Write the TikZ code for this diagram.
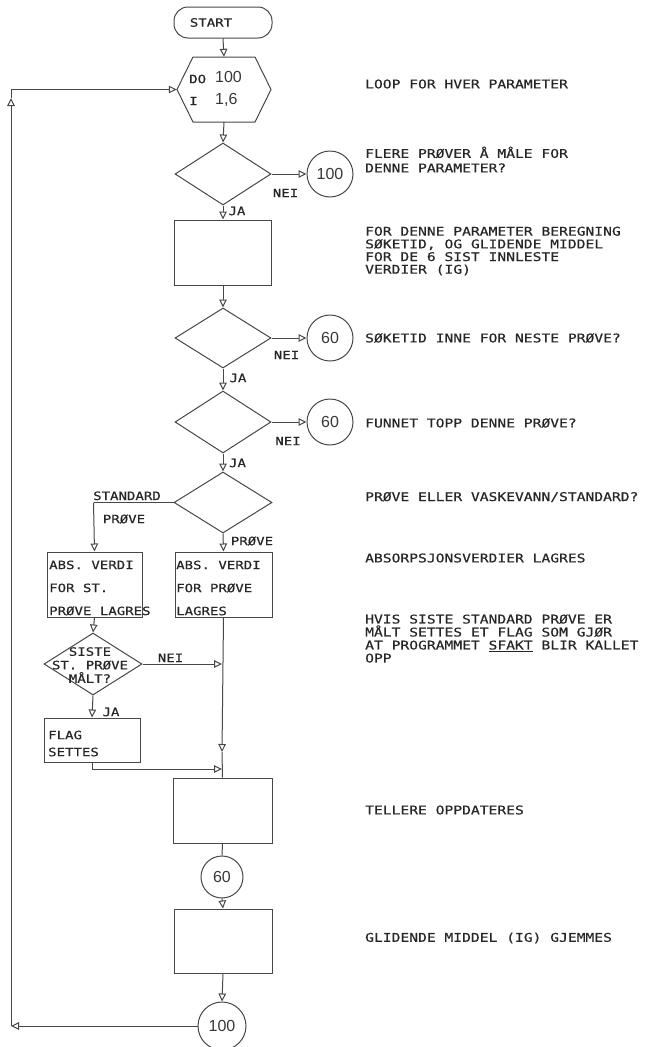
\documentclass[tikz,border=0pt]{standalone}
\usepackage{fontspec}
\usetikzlibrary{shapes.geometric,arrows.meta}
\newfontfamily\tw[FakeStretch=1.22,FakeBold=0.4]{DejaVu Sans Mono}
\newfontfamily\nf{Liberation Sans}
\begin{document}
\begin{tikzpicture}[x=1pt,y=-1pt,
  ln/.style={draw=black!72, line width=1pt},
  arr/.style={ln, -{Triangle[open,length=8pt,width=7.5pt]}},
  box/.style={ln, rectangle, inner sep=0pt},
  dia/.style={ln, diamond, inner sep=0pt},
  circ/.style={ln, circle, inner sep=0pt, font=\nf\fontsize{16}{16}\selectfont, text=black!78},
  note/.style={anchor=west, align=left, inner sep=0pt, font=\tw\fontsize{12}{13}\selectfont, text=black!85},
  lbl/.style={inner sep=0pt, font=\tw\fontsize{11.5}{13}\selectfont, text=black!85},
  btxt/.style={inner sep=0pt, anchor=west, align=left, font=\tw\fontsize{11.5}{23}\selectfont, text=black!85},
]
\useasboundingbox (0,0) rectangle (655,1047);

% ---------- main column ----------
\node[box, rounded corners=14pt, minimum width=98pt, minimum height=31pt, font=\tw\fontsize{11.5}{13}\selectfont, text=black!85] (start) at (223,22.5) {START\hspace*{24pt}};

\node[inner sep=0pt, minimum width=94pt, minimum height=65pt] (do) at (224,89.5) {};
\draw[ln] (177,89.5) -- (193,57) -- (255,57) -- (271,89.5) -- (255,122) -- (193,122) -- cycle;
\node[lbl, anchor=west] (do1) at (189,79) {DO};
\node[inner sep=0pt, anchor=west, font=\nf\fontsize{16}{16}\selectfont, text=black!78] (do2) at (215,77) {100};
\node[lbl, anchor=west] (do3) at (189,101) {I};
\node[inner sep=0pt, anchor=west, font=\nf\fontsize{16}{16}\selectfont, text=black!78] (do4) at (215,100) {1,6};

\node[dia, minimum width=96pt, minimum height=62pt] (d1) at (223,174) {};
\node[circ, minimum size=46pt] (c1) at (330,174) {100};
\node[box, minimum width=97pt, minimum height=65pt] (b1) at (223,252.5) {};
\node[dia, minimum width=96pt, minimum height=60pt] (d2) at (223,338) {};
\node[circ, minimum size=46pt] (c2) at (330,338) {60};
\node[dia, minimum width=96pt, minimum height=62pt] (d3) at (223,422) {};
\node[circ, minimum size=46pt] (c3) at (330,422) {60};
\node[dia, minimum width=98pt, minimum height=61pt] (d4) at (223,502.5) {};

\node[box, minimum width=95pt, minimum height=65pt] (bL) at (94.5,584.5) {};
\node[box, minimum width=97pt, minimum height=65pt] (bR) at (223.5,584.5) {};
\node[btxt] (bLt) at (49,588) {ABS. VERDI\\FOR ST.\\PRØVE LAGRES};
\node[btxt] (bRt) at (176,588) {ABS. VERDI\\FOR PRØVE\\LAGRES};

\node[dia, minimum width=98pt, minimum height=62pt] (d5) at (93,664) {};
\node[lbl, align=center, font=\tw\fontsize{11.5}{13.5}\selectfont] (d5t) at (90,665) {SISTE\\ST. PRØVE\\MÅLT?};

\node[box, minimum width=96pt, minimum height=44pt] (fl) at (92,740) {};
\node[lbl, anchor=west, align=left, font=\tw\fontsize{11.5}{17}\selectfont] (flt) at (48,743.5) {FLAG\\SETTES};

\node[box, minimum width=99pt, minimum height=65pt] (b5) at (222.5,810.5) {};
\node[circ, minimum size=42pt] (c5) at (222,877) {60};
\node[box, minimum width=98pt, minimum height=64pt] (b6) at (223,941) {};
\node[circ, minimum size=48pt] (c6) at (222,1026) {100};

% ---------- coordinates ----------
\coordinate (sl) at (93.5,502.5);
\coordinate (jn) at (222,664);
\coordinate (ja) at (222,752);
\coordinate (jf) at (222,769);
\coordinate (lb) at (11,1026);
\coordinate (lu) at (11,98);

% ---------- connectors ----------
\draw[arr] (start.south) -- (do.north);
\draw[arr] (do.south) -- (d1.north);
\draw[arr] (d1.east) -- (c1.west);
\draw[arr] (d1.south) -- (b1.north);
\draw[arr] (b1.south) -- (d2.north);
\draw[arr] (d2.east) -- (c2.west);
\draw[arr] (d2.south) -- (d3.north);
\draw[arr] (d3.east) -- (c3.west);
\draw[arr] (d3.south) -- (d4.north);
\draw[ln] (d4.west) -- (sl);
\draw[arr] (sl) -- (bL.north);
\draw[arr] (d4.south) -- (bR.north);
\draw[arr] (bL.south) -- (d5.north);
\draw[arr] (d5.east) -- (jn);
\draw[arr] (d5.south) -- (fl.north);
\draw[arr] (bR.south) -- (ja);
\draw[ln] (ja) -- (b5.north);
\draw[arr] (fl.south) |- (jf);
\draw[ln] (b5.south) -- (c5.north);
\draw[arr] (c5.south) -- (b6.north);
\draw[arr] (b6.south) -- (c6.north);
\draw[arr] (c6.west) -- (lb);
\draw[arr] (lb) -- (lu);
\draw[arr] (lu) |- (do.west);

% ---------- connector labels ----------
\node[lbl] (nei1) at (285.5,193) {NEI};
\node[lbl] (ja1) at (237,211) {JA};
\node[lbl] (nei2) at (286.5,355) {NEI};
\node[lbl] (ja2) at (238,378) {JA};
\node[lbl] (nei3) at (288,441) {NEI};
\node[lbl] (ja3) at (237.5,463) {JA};
\node[lbl, anchor=base west] (std) at (93,500) {STANDARD};
\node[lbl] (prL) at (124,519) {PRØVE};
\node[lbl] (prR) at (252,541) {PRØVE};
\node[lbl, anchor=base] (nei5) at (170.5,662) {NEI};
\node[lbl] (ja5) at (111,712) {JA};

% ---------- notes ----------
\node[note] (n1) at (365,84) {LOOP FOR HVER PARAMETER};
\node[note, font=\tw\fontsize{12}{14.5}\selectfont] (n2) at (365,159.5) {FLERE PRØVER Å MÅLE FOR\\DENNE PARAMETER?};
\node[note, font=\tw\fontsize{12}{12.7}\selectfont] (n3) at (365,251) {FOR DENNE PARAMETER BEREGNING\\SØKETID, OG GLIDENDE MIDDEL\\FOR DE 6 SIST INNLESTE\\VERDIER (IG)};
\node[note] (n4) at (365,338) {SØKETID INNE FOR NESTE PRØVE?};
\node[note] (n5) at (365,423) {FUNNET TOPP DENNE PRØVE?};
\node[note] (n6) at (365,497) {PRØVE ELLER VASKEVANN/STANDARD?};
\node[note] (n7) at (365,558) {ABSORPSJONSVERDIER LAGRES};
\node[note] (n8) at (365,638.5) {HVIS SISTE STANDARD PRØVE ER\\MÅLT SETTES ET FLAG SOM GJØR\\AT PROGRAMMET \underline{SFAKT} BLIR KALLET\\OPP};
\node[note] (n9) at (365,810) {TELLERE OPPDATERES};
\node[note] (n10) at (365,938) {GLIDENDE MIDDEL (IG) GJEMMES};
\end{tikzpicture}
\end{document}
